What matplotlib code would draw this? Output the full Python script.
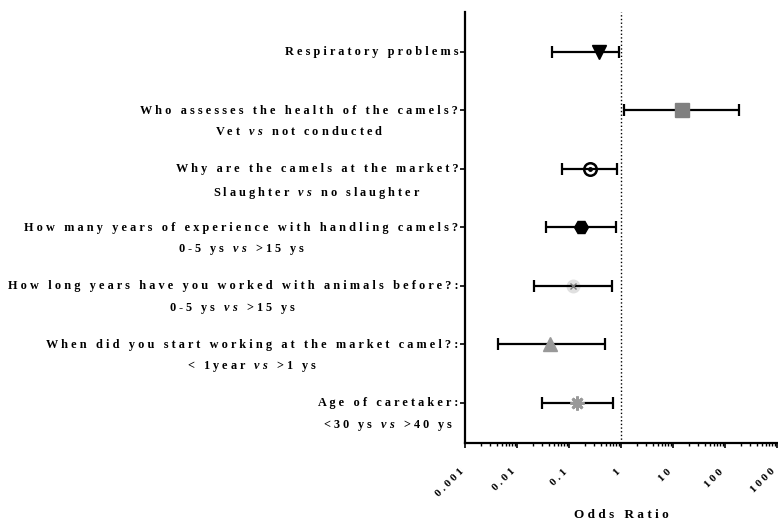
import numpy as np
import matplotlib.pyplot as plt
import matplotlib.transforms as mtransforms

plt.rcParams['font.family'] = 'Liberation Serif'
plt.rcParams['font.weight'] = 'bold'
plt.rcParams['mathtext.fontset'] = 'custom'
plt.rcParams['mathtext.it'] = 'Liberation Serif:italic'
plt.rcParams['mathtext.rm'] = 'Liberation Serif'

# rows from top to bottom
questions = ['Respiratory problems',
             'Who assesses the health of the camels?',
             'Why are the camels at the market?',
             'How many years of experience with handling camels?',
             'How long years have you worked with animals before?:',
             'When did you start working at the market camel?:',
             'Age of caretaker:']
group_a = ['', 'Vet', 'Slaughter', '0-5 ys', '0-5 ys', '< 1year', '<30 ys']
group_b = ['', 'not conducted', 'no slaughter', '>15 ys', '>15 ys', '>1 ys', '>40 ys']

odds = [0.38, 14.7, 0.246, 0.168, 0.118, 0.042, 0.141]
ci_low = [0.046, 1.11, 0.072, 0.036, 0.021, 0.0042, 0.030]
ci_high = [0.89, 186, 0.83, 0.80, 0.66, 0.49, 0.68]

xticks = [0.001, 0.01, 0.1, 1, 10, 100, 1000]
xticklabels = ['0.001', '0.01', '0.1', '1', '10', '100', '1000']


def spaced(s):
    # wide letter spacing like the original
    return ' '.join(s)


def vs_line(a, b):
    return spaced(a) + '   $\\mathit{v}$ $\\mathit{s}$   ' + spaced(b)


styles = [dict(marker='v', ms=10, mfc='black', mec='black'),
          dict(marker='s', ms=10, mfc='#808080', mec='#808080'),
          dict(marker='o', ms=9, mfc='none', mec='black', mew=1.8),
          dict(marker='H', ms=10, mfc='black', mec='black'),
          dict(marker='o', ms=9, mfc='#e0e0e0', mec='#e0e0e0'),
          dict(marker='^', ms=10, mfc='#999999', mec='#999999'),
          dict(marker=(8, 2, 0), ms=10, mec='#999999', mew=2)]

fig = plt.figure(figsize=(7.78, 5.24), dpi=100)
ax = fig.add_axes([0.598, 0.155, 0.401, 0.822])

ypos = np.arange(len(questions), 0, -1)

ax.axvline(1, color='black', linestyle=':', linewidth=1, zorder=1)

for i in range(len(questions)):
    z = 1 if i == 4 else 3
    ax.plot(odds[i], ypos[i], linestyle='none', zorder=z, **styles[i])
    ax.errorbar(odds[i], ypos[i],
                xerr=[[odds[i] - ci_low[i]], [ci_high[i] - odds[i]]],
                fmt='none', ecolor='black', elinewidth=1.6,
                capsize=4.5, capthick=1.6, zorder=2)
# inner details of two markers
ax.plot(odds[2], ypos[2], marker='o', ms=2.5, color='black', zorder=4)
ax.plot(odds[4], ypos[4], marker='x', ms=5, mew=1, color='#777777', zorder=4)

ax.set_xscale('log')
ax.set_xlim(0.001, 1000)
ax.set_ylim(0.32, 7.68)

ax.spines['top'].set_visible(False)
ax.spines['right'].set_visible(False)
ax.spines['left'].set_linewidth(1.6)
ax.spines['bottom'].set_linewidth(1.6)

ax.set_xticks(xticks)
ax.set_xticklabels([spaced(t) for t in xticklabels], rotation=45,
                   ha='right', va='top', fontsize=8, fontweight='bold')
ax.tick_params(axis='x', which='major', length=3.5, width=1.2, pad=14)
ax.tick_params(axis='x', which='minor', length=2, width=1)

ax.set_yticks(ypos)
ax.set_yticklabels([])
ax.tick_params(axis='y', length=3.5, width=1.2)

for i in range(len(questions)):
    if group_a[i]:
        txt = spaced(questions[i]) + '\n' + vs_line(group_a[i], group_b[i])
    else:
        txt = spaced(questions[i])
    ax.annotate(txt, xy=(0, ypos[i]), xycoords=('axes fraction', 'data'),
                xytext=(-5, 4), textcoords='offset points',
                ha='right', va='top', multialignment='center',
                fontsize=8.8, fontweight='bold', linespacing=1.85)

# x axis title placed under the rotated tick labels
trans = mtransforms.blended_transform_factory(ax.transAxes, fig.transFigure)
ax.text(0.5, 0.017, spaced('Odds Ratio'), transform=trans,
        fontsize=9.5, fontweight='bold', ha='center', va='center')

fig.savefig('out.png', dpi=100)
